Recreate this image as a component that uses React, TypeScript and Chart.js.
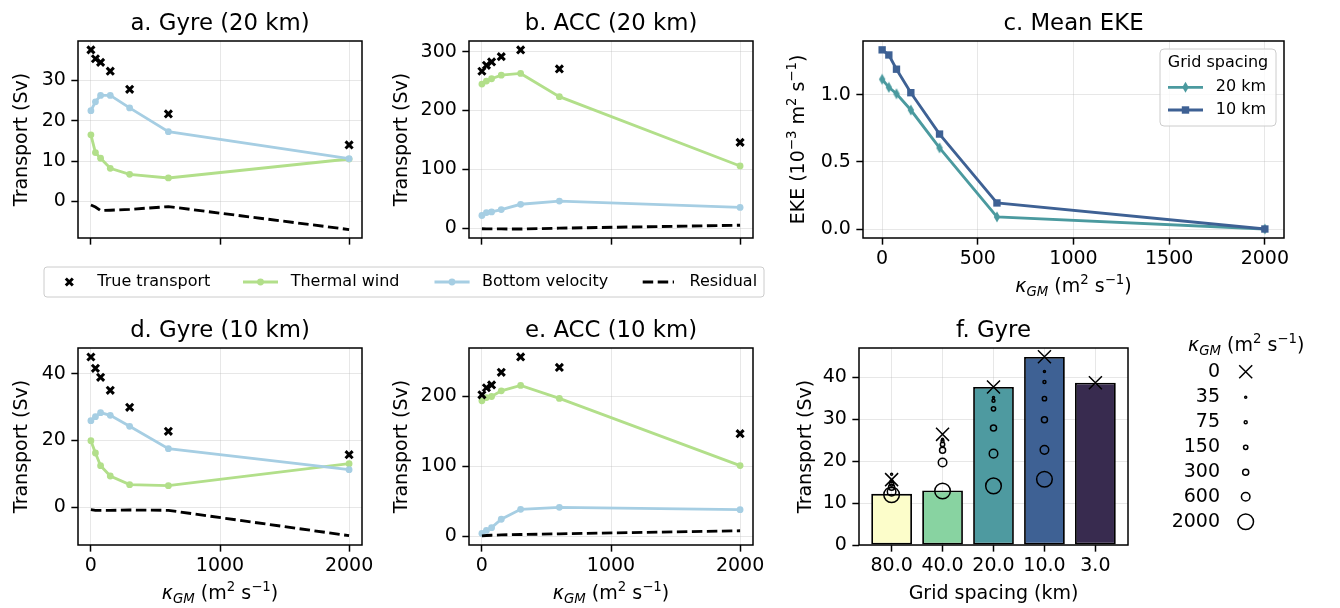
import React, { useEffect, useRef } from 'react';
import { Chart, registerables } from 'chart.js';
Chart.register(...registerables);

// ---------------- data ----------------
const kGM = [0, 35, 75, 150, 300, 600, 2000];
const seriesNames = ['True transport', 'Thermal wind', 'Bottom velocity', 'Residual'];

const gyre20True = [37.6, 35.4, 34.5, 32.3, 27.8, 21.7, 14.0];
const gyre20Thermal = [16.5, 12.1, 10.7, 8.2, 6.7, 5.8, 10.5];
const gyre20Bottom = [22.5, 24.7, 26.3, 26.3, 23.2, 17.3, 10.6];
const gyre20Resid = [-0.9, -1.4, -2.3, -2.2, -2.0, -1.3, -7.0];

const acc20True = [266.7, 276.8, 282.5, 291.5, 302.9, 270.6, 146];
const acc20Thermal = [245, 250, 254, 260, 263, 223.5, 106];
const acc20Bottom = [22, 27, 28, 32, 41, 46.4, 35.7];
const acc20Resid = [-0.5, -0.8, -0.8, -0.8, -1.0, 0.5, 5.5];

const eke20 = [1.115, 1.055, 1.007, 0.886, 0.604, 0.09, 0.0];
const eke10 = [1.334, 1.296, 1.19, 1.015, 0.707, 0.194, 0.0];
const ekeLegendTitle = 'Grid spacing';
const ekeLegend = ['20 km', '10 km'];

const gyre10True = [45.0, 41.6, 38.9, 35.0, 29.9, 22.7, 15.7];
const gyre10Thermal = [19.9, 16.2, 12.4, 9.3, 6.7, 6.4, 13.0];
const gyre10Bottom = [25.9, 27.1, 28.3, 27.5, 24.2, 17.5, 11.2];
const gyre10Resid = [-0.8, -1.0, -1.0, -1.0, -0.9, -1.0, -8.6];

const acc10True = [201.9, 212, 216, 234, 256, 241, 146.3];
const acc10Thermal = [193.3, 198, 199.5, 207.6, 215.3, 196.7, 100.7];
const acc10Bottom = [3.8, 8, 12, 24, 38.2, 41, 37.7];
const acc10Resid = [0.3, 0.8, 1.2, 1.6, 2.2, 3.2, 7.5];

const gridSpacingLabels = ['80.0', '40.0', '20.0', '10.0', '3.0'];
const gyreBar = [12.2, 13.0, 37.7, 44.85, 38.7];
const gyreK0 = [15.6, 26.4, 37.7, 44.9, 38.7];
const gyreK35 = [16.9, 25.2, 35.2, 41.4, null];
const gyreK75 = [15.2, 24.8, 34.4, 38.9, null];
const gyreK150 = [14.6, 24.0, 32.5, 34.9, null];
const gyreK300 = [13.8, 22.6, 27.9, 29.9, null];
const gyreK600 = [12.7, 19.7, 21.8, 22.7, null];
const gyreK2000 = [12.0, 12.9, 14.1, 15.7, null];
const kLegendLabels = ['0', '35', '75', '150', '300', '600', '2000'];

const kTicks = [0, 1000, 2000];
const ekeXTicks = [0, 500, 1000, 1500, 2000];
const gyre20YTicks = [0, 10, 20, 30];
const acc20YTicks = [0, 100, 200, 300];
const ekeYTicks = [0, 0.5, 1.0];
const gyre10YTicks = [0, 20, 40];
const acc10YTicks = [0, 100, 200];
const barXTicks = [0, 1, 2, 3, 4];
const barYTicks = [0, 10, 20, 30, 40];

// ---------------- styles ----------------
const FONT = '"DejaVu Sans", sans-serif';
const W = 1340, H = 608;
const GRID = 'rgba(176,176,176,0.3)';
const LW = 2.85;
const TICKLEN = 6.65;
const AXW = 60, AXH = 50;
const BASE = 19;
const C_TW = '#b2df8a', C_BV = '#a6cee3';
const C20 = '#4b9a9f', C10 = '#3e6194';
const BAR_COLORS = ['#fcfdca', '#88d3a1', '#4e9aa0', '#3e6194', '#382b4f'];

const AREAS: any = {
  a: { l: 78, t: 41, r: 362, b: 238 },
  b: { l: 469, t: 41, r: 753, b: 238 },
  c: { l: 863, t: 41, r: 1284, b: 238 },
  d: { l: 78, t: 348, r: 362, b: 545 },
  e: { l: 469, t: 348, r: 753, b: 545 },
  f: { l: 859, t: 348, r: 1128, b: 545 },
};

type Seg = { t: string; size?: number; italic?: boolean; dy?: number };
const SUP = (t: string): Seg => ({ t, size: 0.7, dy: -0.42 });
const KAPPA_LABEL: Seg[] = [
  { t: 'κ', italic: true }, { t: 'GM', italic: true, size: 0.7, dy: 0.2 },
  { t: ' (m' }, SUP('2'), { t: ' s' }, SUP('−1'), { t: ')' },
];
const TRANSPORT_LABEL: Seg[] = [{ t: 'Transport (Sv)' }];
const EKE_LABEL: Seg[] = [{ t: 'EKE (10' }, SUP('−3'), { t: ' m' }, SUP('2'), { t: ' s' }, SUP('−1'), { t: ')' }];
const GRID_LABEL: Seg[] = [{ t: 'Grid spacing (km)' }];

function segFont(s: Seg, base: number) {
  return `${s.italic ? 'italic ' : ''}${(s.size ?? 1) * base}px ${FONT}`;
}
function drawRich(ctx: CanvasRenderingContext2D, segs: Seg[], x: number, y: number, base: number, align: string, rotate = false) {
  ctx.save();
  ctx.translate(x, y);
  if (rotate) ctx.rotate(-Math.PI / 2);
  ctx.textBaseline = 'alphabetic';
  ctx.textAlign = 'left';
  ctx.fillStyle = '#000';
  let total = 0;
  const widths = segs.map((s) => { ctx.font = segFont(s, base); const w = ctx.measureText(s.t).width; total += w; return w; });
  let cx = align === 'left' ? 0 : align === 'center' ? -total / 2 : -total;
  segs.forEach((s, i) => { ctx.font = segFont(s, base); ctx.fillText(s.t, cx, (s.dy ?? 0) * base); cx += widths[i]; });
  ctx.restore();
}

function pts(xs: number[], ys: (number | null)[]) {
  return xs.map((x, i) => ({ x, y: ys[i] })).filter((p) => p.y !== null);
}

function scales(xr: number[], yr: number[], xTicks: number[], yTicks: number[], xFmt: any, yFmt: any, z = 0) {
  const tickFont = { family: FONT, size: BASE, lineHeight: 1.2 };
  const grid = { color: GRID, lineWidth: 1, drawTicks: true, tickLength: TICKLEN, tickColor: '#000', tickWidth: 1.5, offset: false };
  return {
    x: {
      type: 'linear', position: 'bottom', min: xr[0], max: xr[1], offset: false, z,
      afterBuildTicks: (s: any) => { s.ticks = xTicks.map((v) => ({ value: v })); },
      afterFit: (s: any) => { s.height = AXH; },
      grid, border: { display: false },
      ticks: { color: '#000', font: tickFont, padding: 2.7, maxRotation: 0, minRotation: 0, autoSkip: false, callback: (v: number) => (xFmt ? xFmt(v) : '') },
    },
    y: {
      type: 'linear', position: 'left', min: yr[0], max: yr[1], z,
      afterBuildTicks: (s: any) => { s.ticks = yTicks.map((v) => ({ value: v })); },
      afterFit: (s: any) => { s.width = AXW; },
      grid, border: { display: false },
      ticks: { color: '#000', font: tickFont, padding: 5.5, autoSkip: false, callback: (v: number) => yFmt(v) },
    },
  };
}

function padding(a: any) {
  return { left: a.l - AXW, right: W - a.r, top: a.t, bottom: H - a.b - AXH };
}

function frameAndTitle(ctx: CanvasRenderingContext2D, ca: any, title: string) {
  ctx.strokeStyle = '#000';
  ctx.lineWidth = 1.5;
  ctx.strokeRect(ca.left, ca.top, ca.right - ca.left, ca.bottom - ca.top);
  ctx.fillStyle = '#000';
  ctx.font = `22.8px ${FONT}`;
  ctx.textAlign = 'center';
  ctx.textBaseline = 'alphabetic';
  ctx.fillText(title, (ca.left + ca.right) / 2, ca.top - 11.4);
}

function roundBox(ctx: CanvasRenderingContext2D, x0: number, y0: number, x1: number, y1: number, r: number) {
  ctx.beginPath();
  ctx.moveTo(x0 + r, y0);
  ctx.lineTo(x1 - r, y0); ctx.arcTo(x1, y0, x1, y0 + r, r);
  ctx.lineTo(x1, y1 - r); ctx.arcTo(x1, y1, x1 - r, y1, r);
  ctx.lineTo(x0 + r, y1); ctx.arcTo(x0, y1, x0, y1 - r, r);
  ctx.lineTo(x0, y0 + r); ctx.arcTo(x0, y0, x0 + r, y0, r);
  ctx.closePath();
  ctx.fillStyle = 'rgba(255,255,255,0.8)';
  ctx.fill();
  ctx.strokeStyle = '#cccccc';
  ctx.lineWidth = 1;
  ctx.stroke();
}

function drawX(ctx: CanvasRenderingContext2D, x: number, y: number, h: number, lw: number) {
  ctx.beginPath();
  ctx.moveTo(x - h, y - h); ctx.lineTo(x + h, y + h);
  ctx.moveTo(x + h, y - h); ctx.lineTo(x - h, y + h);
  ctx.strokeStyle = '#000'; ctx.lineWidth = lw; ctx.stroke();
}

function legendLine(ctx: CanvasRenderingContext2D, x0: number, x1: number, y: number, color: string, dash: number[] = []) {
  ctx.beginPath();
  ctx.setLineDash(dash);
  ctx.moveTo(x0, y); ctx.lineTo(x1, y);
  ctx.strokeStyle = color; ctx.lineWidth = LW; ctx.stroke();
  ctx.setLineDash([]);
}

function legendText(ctx: CanvasRenderingContext2D, t: string, x: number, y: number, size: number, align: CanvasTextAlign = 'left') {
  ctx.fillStyle = '#000';
  ctx.font = `${size}px ${FONT}`;
  ctx.textAlign = align;
  ctx.textBaseline = 'middle';
  ctx.fillText(t, x, y);
}

function drawSharedLegend(ctx: CanvasRenderingContext2D) {
  roundBox(ctx, 44, 267, 764, 297, 3);
  const cy = 282;
  drawX(ctx, 69.3, cy, 3.5, 3);
  legendText(ctx, seriesNames[0], 97.3, cy, 16);
  legendLine(ctx, 243, 278, cy, C_TW);
  ctx.beginPath(); ctx.arc(260.5, cy, 3.4, 0, Math.PI * 2); ctx.fillStyle = C_TW; ctx.fill();
  legendText(ctx, seriesNames[1], 290.7, cy, 16);
  legendLine(ctx, 434.5, 469.6, cy, C_BV);
  ctx.beginPath(); ctx.arc(452, cy, 3.4, 0, Math.PI * 2); ctx.fillStyle = C_BV; ctx.fill();
  legendText(ctx, seriesNames[2], 482, cy, 16);
  legendLine(ctx, 642.7, 674, cy, '#000', [10.5, 4.5]);
  legendText(ctx, seriesNames[3], 689.5, cy, 16);
}

function drawThinDiamond(ctx: CanvasRenderingContext2D, x: number, y: number, color: string) {
  ctx.beginPath();
  ctx.moveTo(x, y - 5.5); ctx.lineTo(x + 3.2, y); ctx.lineTo(x, y + 5.5); ctx.lineTo(x - 3.2, y);
  ctx.closePath(); ctx.fillStyle = color; ctx.fill();
}

function makeThinDiamond(color: string) {
  const c = document.createElement('canvas');
  c.width = 8; c.height = 12;
  const g = c.getContext('2d') as CanvasRenderingContext2D;
  drawThinDiamond(g, 4, 6, color);
  return c;
}

function drawEkeLegend(ctx: CanvasRenderingContext2D) {
  roundBox(ctx, 1160, 49, 1276, 126, 4);
  legendText(ctx, ekeLegendTitle, 1218, 62.5, 16, 'center');
  legendLine(ctx, 1168, 1203, 87.3, C20);
  drawThinDiamond(ctx, 1185.5, 87.3, C20);
  legendText(ctx, ekeLegend[0], 1215.7, 87.3, 16);
  legendLine(ctx, 1168, 1203, 110, C10);
  ctx.fillStyle = C10; ctx.fillRect(1185.5 - 3.7, 110 - 3.7, 7.4, 7.4);
  legendText(ctx, ekeLegend[1], 1215.7, 110, 16);
}

const K_RADIUS = (k: number) => 7.8 * Math.sqrt(k / 2000);

function drawKLegend(ctx: CanvasRenderingContext2D) {
  drawRich(ctx, KAPPA_LABEL, 1188, 351, BASE, 'left');
  const ys = [371.7, 397.3, 422.3, 447.3, 472.3, 496.7, 521.7];
  kLegendLabels.forEach((lab, i) => {
    legendText(ctx, lab, 1220, ys[i], BASE, 'right');
    const k = kGM[i];
    if (k === 0) {
      drawX(ctx, 1245.7, ys[i], 6.5, 1.5);
    } else {
      ctx.beginPath(); ctx.arc(1245.7, ys[i], K_RADIUS(k), 0, Math.PI * 2);
      ctx.strokeStyle = '#000'; ctx.lineWidth = 1.5; ctx.stroke();
    }
  });
}

const intFmt = (v: number) => String(v);

function transportDatasets(tr: number[], tw: number[], bv: number[], rs: number[]) {
  return [
    { label: seriesNames[0], data: pts(kGM, tr), showLine: false, pointStyle: 'crossRot', pointRadius: 5, pointBorderColor: '#000', pointBorderWidth: 3, borderColor: '#000' },
    { label: seriesNames[3], data: pts(kGM, rs), borderColor: '#000', borderWidth: LW, borderDash: [10.5, 4.5], pointRadius: 0, tension: 0 },
    { label: seriesNames[2], data: pts(kGM, bv), borderColor: C_BV, backgroundColor: C_BV, borderWidth: LW, pointRadius: 3.4, pointBackgroundColor: C_BV, pointBorderWidth: 0, tension: 0 },
    { label: seriesNames[1], data: pts(kGM, tw), borderColor: C_TW, backgroundColor: C_TW, borderWidth: LW, pointRadius: 3.4, pointBackgroundColor: C_TW, pointBorderWidth: 0, tension: 0 },
  ];
}

function baseOptions(area: any, sc: any) {
  return {
    responsive: false, animation: false, events: [],
    layout: { padding: padding(area), autoPadding: false },
    plugins: { legend: { display: false }, tooltip: { enabled: false }, title: { display: false } },
    scales: sc,
  };
}

function decor(id: string, fn: (ctx: CanvasRenderingContext2D, ca: any) => void) {
  return { id, afterDraw(chart: any) { const ctx = chart.ctx; ctx.save(); fn(ctx, chart.chartArea); ctx.restore(); } };
}

function linePanel(key: string, title: string, ds: any[], yr: number[], yTicks: number[], showX: boolean, yLabel: Seg[], yLabelX: number, extra?: (ctx: CanvasRenderingContext2D) => void) {
  const area = AREAS[key];
  return {
    type: 'line',
    data: { datasets: ds },
    options: baseOptions(area, scales([-100, 2100], yr, kTicks, yTicks, showX ? intFmt : null, intFmt)),
    plugins: [decor('decor_' + key, (ctx, ca) => {
      frameAndTitle(ctx, ca, title);
      drawRich(ctx, yLabel, yLabelX, (ca.top + ca.bottom) / 2, BASE, 'center', true);
      if (showX) drawRich(ctx, KAPPA_LABEL, (ca.left + ca.right) / 2, 599, BASE, 'center');
      if (extra) extra(ctx);
    })],
  };
}

function buildConfigs() {
  const cfgA = linePanel('a', 'a. Gyre (20 km)', transportDatasets(gyre20True, gyre20Thermal, gyre20Bottom, gyre20Resid), [-9.1, 39.8], gyre20YTicks, false, TRANSPORT_LABEL, 26.5, drawSharedLegend);
  const cfgB = linePanel('b', 'b. ACC (20 km)', transportDatasets(acc20True, acc20Thermal, acc20Bottom, acc20Resid), [-16.2, 318], acc20YTicks, false, TRANSPORT_LABEL, 406.5);
  const cfgD = linePanel('d', 'd. Gyre (10 km)', transportDatasets(gyre10True, gyre10Thermal, gyre10Bottom, gyre10Resid), [-11.4, 47.7], gyre10YTicks, true, TRANSPORT_LABEL, 26.5);
  const cfgE = linePanel('e', 'e. ACC (10 km)', transportDatasets(acc10True, acc10Thermal, acc10Bottom, acc10Resid), [-12.8, 268.8], acc10YTicks, true, TRANSPORT_LABEL, 406.5);

  const diamond = makeThinDiamond(C20);
  const areaC = AREAS.c;
  const cfgC = {
    type: 'line',
    data: {
      datasets: [
        { label: ekeLegend[1], data: pts(kGM, eke10), borderColor: C10, backgroundColor: C10, borderWidth: LW, pointStyle: 'rect', pointRadius: 5.2, pointBackgroundColor: C10, pointBorderWidth: 0, tension: 0 },
        { label: ekeLegend[0], data: pts(kGM, eke20), borderColor: C20, backgroundColor: C20, borderWidth: LW, pointStyle: diamond, pointRadius: 5, tension: 0 },
      ],
    },
    options: baseOptions(areaC, scales([-100, 2100], [-0.067, 1.4], ekeXTicks, ekeYTicks, intFmt, (v: number) => v.toFixed(1))),
    plugins: [decor('decor_c', (ctx, ca) => {
      frameAndTitle(ctx, ca, 'c. Mean EKE');
      drawRich(ctx, EKE_LABEL, 804, (ca.top + ca.bottom) / 2, BASE, 'center', true);
      drawRich(ctx, KAPPA_LABEL, (ca.left + ca.right) / 2, 292, BASE, 'center');
      drawEkeLegend(ctx);
    })],
  };

  const kSeries = [gyreK0, gyreK35, gyreK75, gyreK150, gyreK300, gyreK600, gyreK2000];
  const markerSets = kSeries.map((vals, i) => {
    const k = kGM[i];
    return {
      type: 'line', label: kLegendLabels[i], data: pts(barXTicks, vals), showLine: false,
      pointStyle: k === 0 ? 'crossRot' : 'circle',
      pointRadius: k === 0 ? 9.2 : K_RADIUS(k),
      pointBorderColor: '#000', pointBorderWidth: 1.5, pointBackgroundColor: 'rgba(0,0,0,0)', borderColor: '#000',
    };
  });
  const areaF = AREAS.f;
  const cfgF = {
    type: 'bar',
    data: {
      datasets: [
        ...markerSets,
        { type: 'bar', label: 'Gyre', data: pts(barXTicks, gyreBar), backgroundColor: BAR_COLORS, borderColor: '#000', borderWidth: 1.8, borderSkipped: false, barPercentage: 0.8, categoryPercentage: 1.0, grouped: false },
      ],
    },
    options: baseOptions(areaF, scales([-0.64, 4.64], [0, 47], barXTicks, barYTicks, (v: number) => gridSpacingLabels[v], intFmt, 1)),
    plugins: [decor('decor_f', (ctx, ca) => {
      frameAndTitle(ctx, ca, 'f. Gyre');
      drawRich(ctx, TRANSPORT_LABEL, 810.5, (ca.top + ca.bottom) / 2, BASE, 'center', true);
      drawRich(ctx, GRID_LABEL, (ca.left + ca.right) / 2, 599, BASE, 'center');
      drawKLegend(ctx);
    })],
  };
  return [cfgA, cfgB, cfgC, cfgD, cfgE, cfgF];
}

export default function App() {
  const r0 = useRef<HTMLCanvasElement>(null);
  const r1 = useRef<HTMLCanvasElement>(null);
  const r2 = useRef<HTMLCanvasElement>(null);
  const r3 = useRef<HTMLCanvasElement>(null);
  const r4 = useRef<HTMLCanvasElement>(null);
  const r5 = useRef<HTMLCanvasElement>(null);
  const refs = [r0, r1, r2, r3, r4, r5];
  useEffect(() => {
    const cfgs = buildConfigs();
    const charts = cfgs.map((cfg, i) => new Chart(refs[i].current as HTMLCanvasElement, cfg as any));
    return () => charts.forEach((c) => c.destroy());
  }, []);
  return (
    <div style={{ position: 'absolute', left: 0, top: 0, width: W, height: H, background: '#fff' }}>
      {refs.map((r, i) => (
        <canvas key={i} ref={r} width={W} height={H} style={{ position: 'absolute', left: 0, top: 0, width: W, height: H }} />
      ))}
    </div>
  );
}
